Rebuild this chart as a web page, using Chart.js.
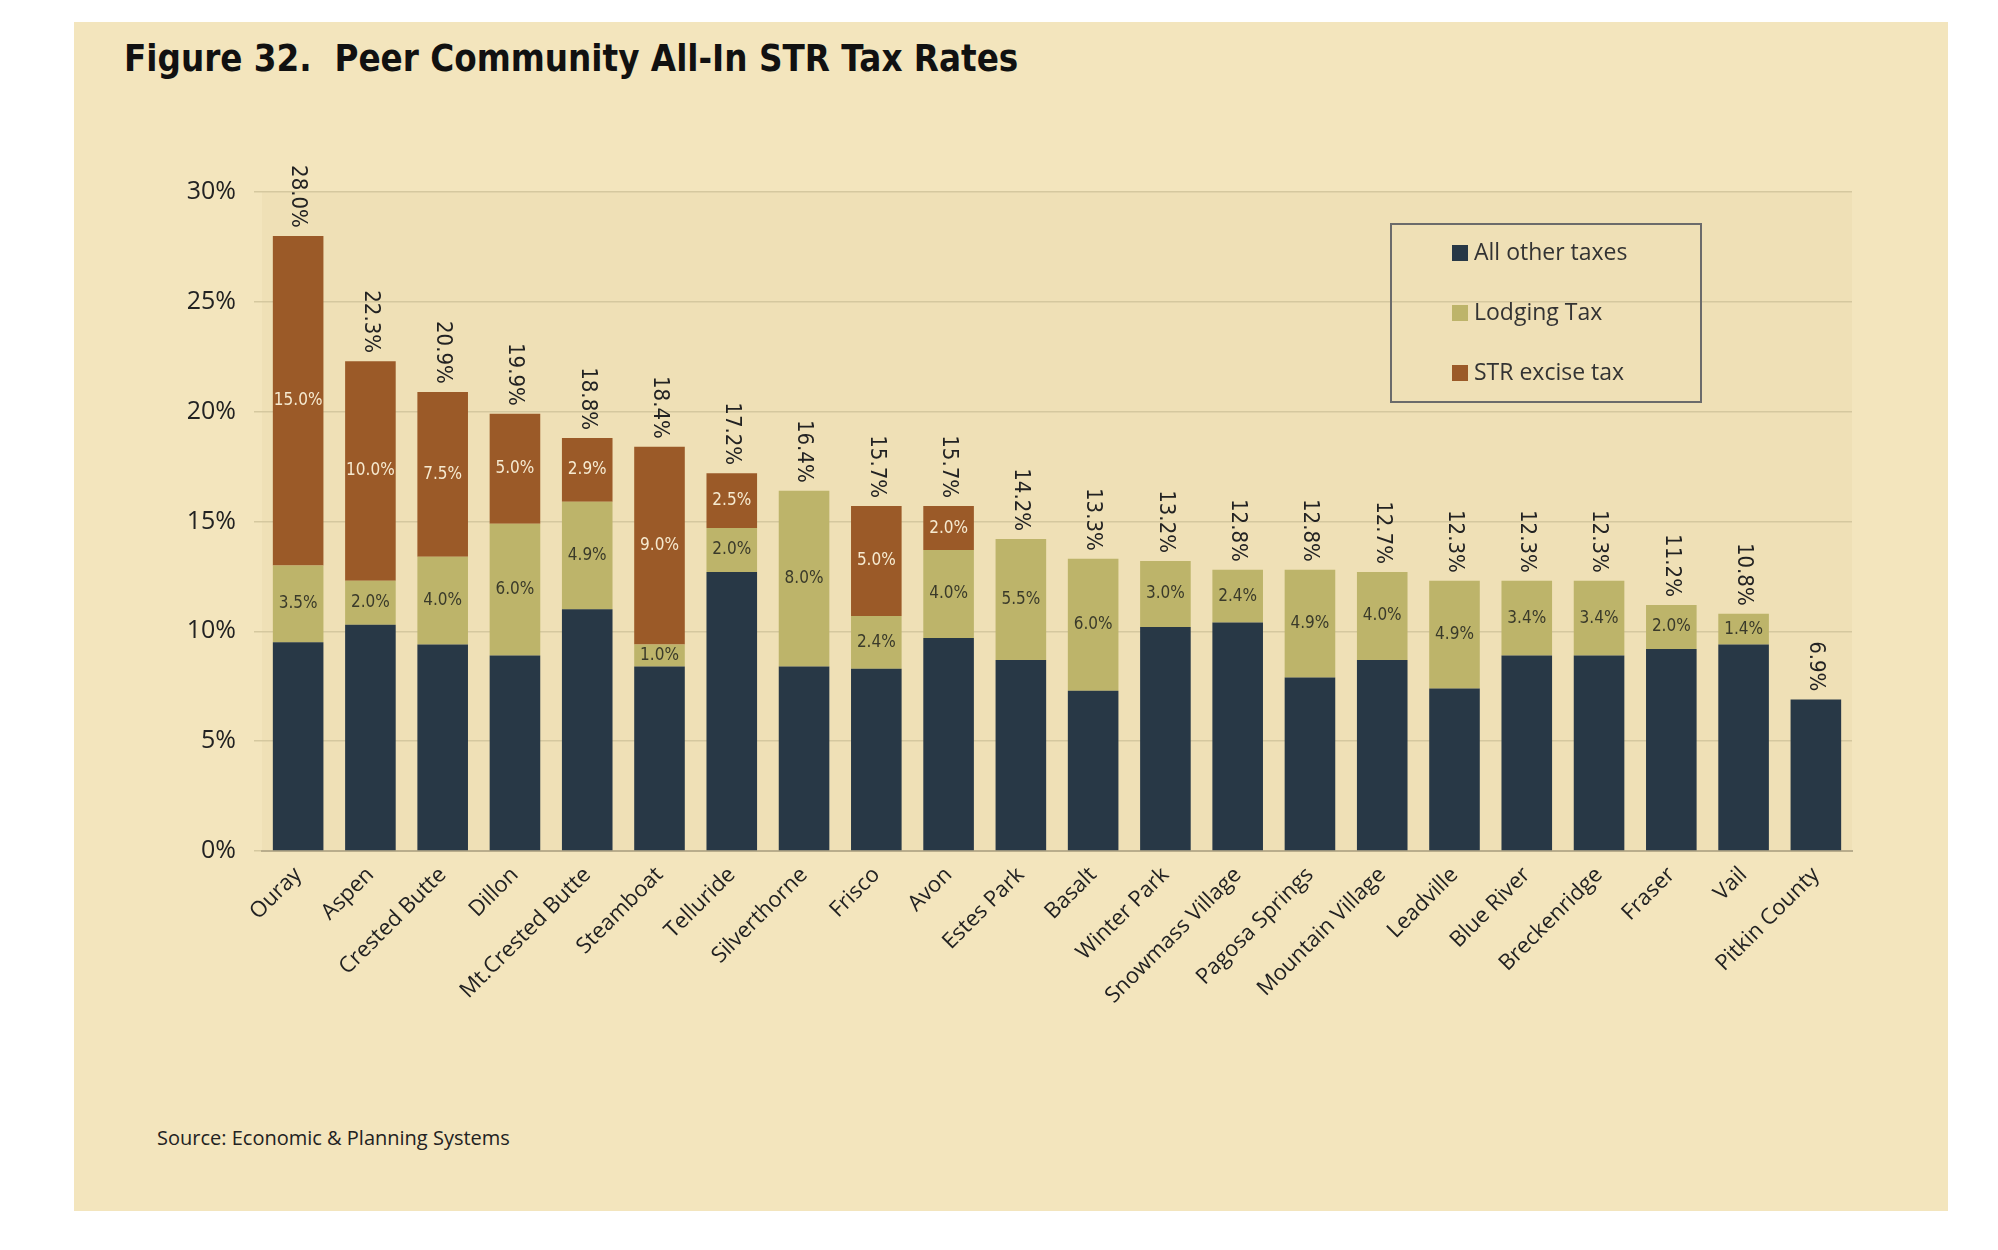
<!DOCTYPE html>
<html><head><meta charset="utf-8">
<script src="https://cdn.jsdelivr.net/npm/chart.js@4"></script>
<style>
body{margin:0;background:#fff;width:1998px;height:1250px;position:relative;overflow:hidden}
#panel{position:absolute;left:74px;top:22px;width:1874px;height:1189px;background:#f3e5bd}
#title{position:absolute;left:124px;top:36px;font:bold 38px 'DejaVu Sans',sans-serif;color:#111;transform:scaleX(0.86);transform-origin:left top;white-space:nowrap}
#src{position:absolute;left:157px;top:1124px;font:20px 'Open Sans',sans-serif;color:#222}
#wrap{position:absolute;left:0;top:0;width:1998px;height:1250px}
</style></head><body>
<div id="panel"></div>
<div id="title">Figure 32.&nbsp; Peer Community All-In STR Tax Rates</div>
<div id="src">Source: Economic &amp; Planning Systems</div>
<div id="wrap"><canvas id="c" width="1998" height="1250"></canvas></div>
<script>
const towns = ['Ouray','Aspen','Crested Butte','Dillon','Mt.Crested Butte','Steamboat','Telluride','Silverthorne','Frisco','Avon','Estes Park','Basalt','Winter Park','Snowmass Village','Pagosa Springs','Mountain Village','Leadville','Blue River','Breckenridge','Fraser','Vail','Pitkin County']
const otherTaxes = [9.5,10.3,9.4,8.9,11.0,8.4,12.7,8.4,8.3,9.7,8.7,7.3,10.2,10.4,7.9,8.7,7.4,8.9,8.9,9.2,9.4,6.9]
const lodgingTax = [3.5,2.0,4.0,6.0,4.9,1.0,2.0,8.0,2.4,4.0,5.5,6.0,3.0,2.4,4.9,4.0,4.9,3.4,3.4,2.0,1.4,0]
const strExcise = [15.0,10.0,7.5,5.0,2.9,9.0,2.5,0,5.0,2.0,0,0,0,0,0,0,0,0,0,0,0,0]
const totals = [28.0,22.3,20.9,19.9,18.8,18.4,17.2,16.4,15.7,15.7,14.2,13.3,13.2,12.8,12.8,12.7,12.3,12.3,12.3,11.2,10.8,6.9]

const colors = ['#283846','#bdb46a','#9b5a28']
const names = ['All other taxes','Lodging Tax','STR excise tax']

const labelsPlugin = {
  id: 'lbl',
  beforeDraw(chart) {
    const {ctx, chartArea: a} = chart
    ctx.save(); ctx.fillStyle = '#efe0b6'; ctx.fillRect(a.left, a.top, a.right - a.left, a.bottom - a.top); ctx.restore()
  },
  afterDatasetsDraw(chart) {
    const ctx = chart.ctx
    ctx.save()
    ctx.font = '17px "DejaVu Sans Condensed", "Liberation Sans Narrow", sans-serif'
    ctx.textAlign = 'center'; ctx.textBaseline = 'middle'
    ;[1,2].forEach(d => {
      chart.getDatasetMeta(d).data.forEach((bar, i) => {
        const v = chart.data.datasets[d].data[i]
        if (!v) return
        ctx.fillStyle = d == 2 ? '#f6ead0' : '#3a3a2a'
        ctx.fillText(v.toFixed(1) + '%', bar.x, (bar.y + bar.base) / 2)
      })
    })
    ctx.font = '22px "DejaVu Sans Condensed", "Liberation Sans Narrow", sans-serif'
    ctx.fillStyle = '#222'
    const y = chart.scales.y
    chart.getDatasetMeta(0).data.forEach((bar, i) => {
      ctx.save()
      ctx.translate(bar.x, y.getPixelForValue(totals[i]) - 8)
      ctx.rotate(Math.PI / 2)
      ctx.textAlign = 'right'
      ctx.fillText(totals[i].toFixed(1) + '%', 0, 0)
      ctx.restore()
    })
    // legend box
    ctx.strokeStyle = '#6b6b6b'; ctx.lineWidth = 2
    ctx.strokeRect(1391, 224, 310, 178)
    ctx.font = '23px "Open Sans", sans-serif'; ctx.textAlign = 'left'
    names.forEach((n, k) => {
      const ly = 253 + k * 60
      ctx.fillStyle = colors[k]; ctx.fillRect(1452, ly - 8, 16, 16)
      ctx.fillStyle = '#333'; ctx.fillText(n, 1474, ly)
    })
    ctx.restore()
  }
}

new Chart(document.getElementById('c'), {
  type: 'bar',
  data: {
    labels: towns,
    datasets: [otherTaxes, lodgingTax, strExcise].map((d, k) => ({
      label: names[k], data: d, backgroundColor: colors[k],
      categoryPercentage: 0.7, barPercentage: 1
    }))
  },
  options: {
    responsive: false, animation: false,
    devicePixelRatio: 1,
    layout: {padding: {left: 140, top: 192, right: 146, bottom: 0}},
    plugins: {legend: {display: false}, tooltip: {enabled: false}},
    scales: {
      x: {
        stacked: true,
        grid: {display: false},
        border: {color: '#b9ad8c', width: 2},
        ticks: {minRotation: 45, maxRotation: 45, color: '#222', font: {size: 22, family: 'Open Sans'}},
        afterFit(s) { s.height = 399 }
      },
      y: {
        stacked: true, min: 0, max: 30,
        border: {display: false},
        grid: {color: '#d5c89f', lineWidth: 1.5},
        ticks: {stepSize: 5, color: '#222', padding: 18, font: {size: 25, family: 'Open Sans'}, callback: v => v + '%'},
        afterFit(s) { s.width = 122 }
      }
    }
  },
  plugins: [labelsPlugin]
})
</script>
</body></html>
